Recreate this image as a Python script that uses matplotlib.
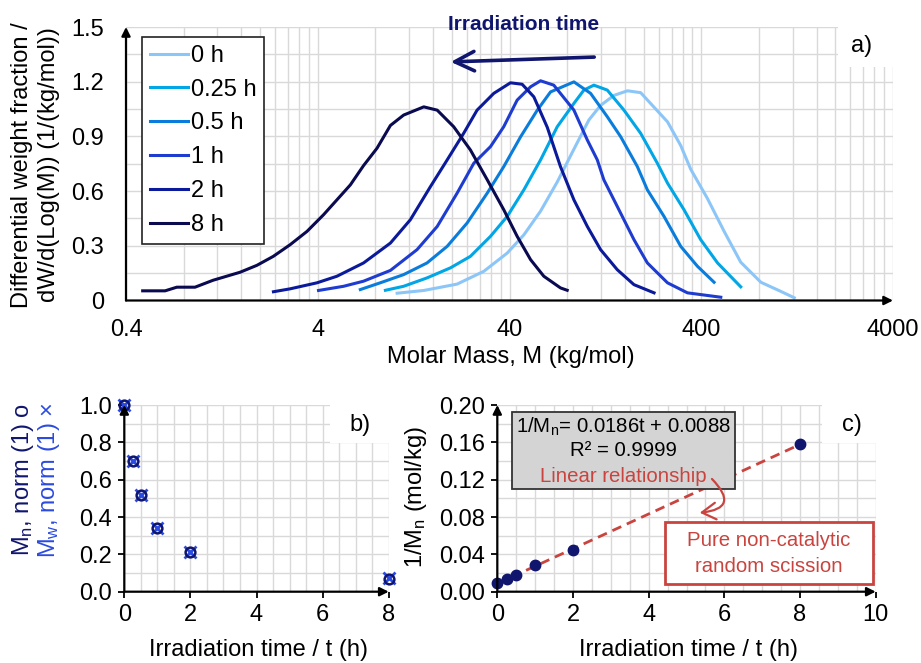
import numpy as np
import matplotlib.pyplot as plt
from matplotlib.patches import Rectangle, FancyArrowPatch
from matplotlib.ticker import FixedLocator, NullFormatter

plt.rcParams['font.family'] = ['Liberation Sans', 'DejaVu Sans']
plt.rcParams['font.size'] = 17
plt.rcParams['mathtext.fontset'] = 'custom'
plt.rcParams['mathtext.rm'] = 'Liberation Sans'
plt.rcParams['mathtext.it'] = 'Liberation Sans:italic'

# ---- panel a: molar mass distributions (log10 M in kg/mol, dW/dlogM)
labels_a = ['0 h', '0.25 h', '0.5 h', '1 h', '2 h', '8 h']
colors_a = ['#8cc6f8', '#00a6e6', '#0a7ddc', '#1e3cd0', '#0a1a9a', '#0a0a50']

logm_0h = [1.016, 1.155, 1.329, 1.468, 1.590, 1.677, 1.764, 1.851, 1.938, 2.016, 2.077, 2.147,
           2.217, 2.286, 2.356, 2.426, 2.495, 2.547, 2.634, 2.721, 2.808, 2.913, 3.017, 3.087]
w_0h = [0.04, 0.055, 0.09, 0.16, 0.26, 0.36, 0.49, 0.65, 0.83, 0.99, 1.07, 1.125,
        1.15, 1.14, 1.06, 0.98, 0.85, 0.72, 0.56, 0.38, 0.21, 0.10, 0.05, 0.015]

logm_025h = [0.955, 1.050, 1.172, 1.294, 1.398, 1.503, 1.590, 1.677, 1.764, 1.851, 1.938,
             1.990, 2.042, 2.112, 2.199, 2.286, 2.373, 2.426, 2.512, 2.599, 2.687, 2.808]
w_025h = [0.056, 0.078, 0.124, 0.179, 0.242, 0.352, 0.461, 0.607, 0.771, 0.953, 1.081,
          1.154, 1.181, 1.154, 1.044, 0.917, 0.753, 0.644, 0.498, 0.334, 0.206, 0.075]

logm_05h = [0.824, 0.928, 1.050, 1.172, 1.277, 1.381, 1.486, 1.572, 1.660, 1.747, 1.816,
            1.938, 2.025, 2.112, 2.182, 2.269, 2.321, 2.408, 2.495, 2.582, 2.669]
w_05h = [0.06, 0.097, 0.142, 0.206, 0.297, 0.425, 0.589, 0.734, 0.898, 1.044, 1.144,
         1.199, 1.136, 1.008, 0.898, 0.734, 0.607, 0.461, 0.297, 0.188, 0.10]

logm_1h = [0.606, 0.737, 0.841, 0.981, 1.120, 1.225, 1.329, 1.416, 1.503, 1.572, 1.642, 1.712,
           1.764, 1.833, 1.938, 2.008, 2.060, 2.094, 2.164, 2.251, 2.321, 2.426, 2.530, 2.704]
w_1h = [0.055, 0.078, 0.106, 0.165, 0.279, 0.406, 0.589, 0.753, 0.844, 0.953, 1.099, 1.172,
        1.205, 1.181, 1.044, 0.88, 0.771, 0.662, 0.516, 0.334, 0.206, 0.097, 0.042, 0.018]

logm_2h = [0.371, 0.458, 0.598, 0.702, 0.841, 0.981, 1.085, 1.190, 1.277, 1.363, 1.433, 1.520,
           1.607, 1.668, 1.729, 1.799, 1.868, 1.938, 2.008, 2.077, 2.164, 2.251, 2.356]
w_2h = [0.048, 0.064, 0.097, 0.133, 0.206, 0.315, 0.443, 0.625, 0.771, 0.917, 1.044, 1.136,
        1.194, 1.186, 1.117, 0.95, 0.734, 0.552, 0.406, 0.279, 0.169, 0.087, 0.042]

logm_8h = [-0.311, -0.194, -0.133, -0.038, 0.056, 0.197, 0.285, 0.370, 0.458, 0.546, 0.632,
           0.702, 0.772, 0.841, 0.911, 0.981, 1.050, 1.155, 1.225, 1.311, 1.398, 1.486,
           1.572, 1.642, 1.712, 1.781, 1.868, 1.903]
w_8h = [0.053, 0.053, 0.073, 0.073, 0.111, 0.155, 0.193, 0.242, 0.306, 0.379, 0.47,
        0.552, 0.634, 0.74, 0.835, 0.96, 1.017, 1.062, 1.044, 0.953, 0.826, 0.662,
        0.498, 0.352, 0.224, 0.133, 0.069, 0.056]

# ---- panels b and c
t_h = [0, 0.25, 0.5, 1, 2, 8]
mn_norm = [1.0, 0.70, 0.52, 0.34, 0.21, 0.07]
mw_norm = [1.0, 0.70, 0.52, 0.34, 0.21, 0.075]
inv_mn = [0.0090, 0.0136, 0.0176, 0.0283, 0.0447, 0.158]

W, H = 921, 663


def fpos(x, y):
    # pixel (top-left origin) -> figure fraction
    return x / W, 1 - y / H


def axes_box(x0, y0, x1, y1):
    return [x0 / W, 1 - y1 / H, (x1 - x0) / W, (y1 - y0) / H]


def axis_arrows(ax):
    for s in ax.spines.values():
        s.set_visible(False)
    kw = dict(arrowstyle='-|>', lw=1.6, color='k', mutation_scale=13, shrinkA=0, shrinkB=0)
    ax.annotate('', xy=(1, 0), xytext=(0, 0), xycoords='axes fraction', arrowprops=kw, zorder=5)
    ax.annotate('', xy=(0, 1), xytext=(0, 0), xycoords='axes fraction', arrowprops=kw, zorder=5)


def white_box(x0, y0, x1, y1):
    fig.patches.append(Rectangle(fpos(x0, y1), (x1 - x0) / W, (y1 - y0) / H,
                                 transform=fig.transFigure, facecolor='white',
                                 edgecolor='none', zorder=1))


grid_kw = dict(color='#d9d9d9', lw=1)
navy = '#10156e'
red = '#c9443f'

fig = plt.figure(figsize=(W / 100, H / 100), dpi=100)

# ------------------------------------------------------------------ a
ax_a = fig.add_axes(axes_box(126, 27, 893, 300.5))
series = [(logm_0h, w_0h), (logm_025h, w_025h), (logm_05h, w_05h),
          (logm_1h, w_1h), (logm_2h, w_2h), (logm_8h, w_8h)]
for (lm, w), lab, col in zip(series, labels_a, colors_a):
    ax_a.plot(10 ** np.array(lm), w, color=col, lw=2.2, label=lab)
ax_a.set_xscale('log')
ax_a.set_xlim(0.4, 4000)
ax_a.set_ylim(0, 1.5)
ax_a.xaxis.set_major_locator(FixedLocator([0.4, 4, 40, 400, 4000]))
ax_a.set_xticklabels(['0.4', '4', '40', '400', '4000'])
ax_a.xaxis.set_minor_locator(FixedLocator([0.4 * k * 10 ** n for n in range(4) for k in range(1, 10)]))
ax_a.xaxis.set_minor_formatter(NullFormatter())
ax_a.set_yticks(np.arange(0, 1.51, 0.3))
ax_a.set_yticklabels(['0', '0.3', '0.6', '0.9', '1.2', '1.5'])
ax_a.set_yticks(np.arange(0, 1.51, 0.15), minor=True)
ax_a.grid(True, which='both', **grid_kw)
ax_a.set_axisbelow(True)
ax_a.tick_params(which='both', length=0)
ax_a.tick_params(axis='y', pad=16)
ax_a.tick_params(axis='x', pad=13)
axis_arrows(ax_a)
leg = ax_a.legend(loc='upper left', bbox_to_anchor=(0.021, 0.965), frameon=True, fancybox=False,
                  edgecolor='#222222', framealpha=1, handlelength=1.6, handletextpad=0.1,
                  borderpad=0.35, labelspacing=0.5, borderaxespad=0)
leg.get_frame().set_linewidth(1.2)

fig.text(*fpos(22, 165), 'Differential weight fraction /', rotation=90, ha='center', va='center')
fig.text(*fpos(49, 165), 'dW/d(Log(M)) (1/(kg/mol))', rotation=90, ha='center', va='center')
fig.text(*fpos(511, 357), 'Molar Mass, M (kg/mol)', ha='center', va='center')
fig.text(*fpos(524, 24), 'Irradiation time', ha='center', va='center', fontsize=15,
         fontweight='bold', color=navy)
fig.patches.append(FancyArrowPatch(
    fpos(597, 57), fpos(448, 62), transform=fig.transFigure, arrowstyle='->,head_length=0.7,head_width=0.35',
    mutation_scale=20, lw=2.6, color=navy, zorder=4))
white_box(838, 20, 900, 67)
fig.text(*fpos(862, 46), 'a)', ha='center', va='center', zorder=4)

# ------------------------------------------------------------------ b
ax_b = fig.add_axes(axes_box(124.3, 405, 388.7, 591.7))
ax_b.plot(t_h, mw_norm, 'x', color='#2b4be0', ms=9, mew=2)
ax_b.plot(t_h, mn_norm, 'o', mfc='none', mec=navy, ms=7, mew=1.8)
ax_b.set_xlim(0, 8)
ax_b.set_ylim(0, 1.0)
ax_b.set_xticks(np.arange(0, 8.1, 2))
ax_b.set_xticks(np.arange(0, 8.01, 0.5), minor=True)
ax_b.set_yticks(np.arange(0, 1.01, 0.2))
ax_b.set_yticks(np.arange(0, 1.01, 0.1), minor=True)
ax_b.yaxis.set_major_formatter(plt.FormatStrFormatter('%.1f'))
ax_b.grid(True, which='both', **grid_kw)
ax_b.set_axisbelow(True)
ax_b.tick_params(which='minor', length=0)
ax_b.tick_params(which='major', length=4, width=1.3, pad=5)
axis_arrows(ax_b)
for ln in ax_b.lines:
    ln.set_clip_on(False)
fig.text(*fpos(258, 650), 'Irradiation time / t (h)', ha='center', va='center')
fig.text(*fpos(23, 480), r'M$\mathregular{_n}$, norm (1) o', rotation=90, ha='center', va='center',
         color=navy)
fig.text(*fpos(49, 480), r'M$\mathregular{_w}$, norm (1) ×', rotation=90, ha='center', va='center',
         color='#2b4be0')
white_box(330, 398, 392, 443)
fig.text(*fpos(360, 425), 'b)', ha='center', va='center', zorder=4)

# ------------------------------------------------------------------ c
ax_c = fig.add_axes(axes_box(497.3, 405, 875.7, 591.7))
slope, icpt = np.polyfit(t_h, inv_mn, 1)
tt = np.array([0, t_h[-1]])
ax_c.plot(tt, slope * tt + icpt, '--', color=red, lw=2, dashes=(3.5, 2.2))
ax_c.plot(t_h, inv_mn, 'o', color=navy, ms=7.5)
ax_c.set_xlim(0, 10)
ax_c.set_ylim(0, 0.2)
ax_c.set_xticks(np.arange(0, 10.1, 2))
ax_c.set_xticks(np.arange(0, 10.01, 0.5), minor=True)
ax_c.set_yticks(np.arange(0, 0.201, 0.04))
ax_c.set_yticks(np.arange(0, 0.201, 0.02), minor=True)
ax_c.yaxis.set_major_formatter(plt.FormatStrFormatter('%.2f'))
ax_c.grid(True, which='both', **grid_kw)
ax_c.set_axisbelow(True)
ax_c.tick_params(which='minor', length=0)
ax_c.tick_params(which='major', length=4, width=1.3, pad=5)
axis_arrows(ax_c)
for ln in ax_c.lines:
    ln.set_clip_on(False)
fig.text(*fpos(688, 650), 'Irradiation time / t (h)', ha='center', va='center')
fig.text(*fpos(416, 497), r'1/M$\mathregular{_n}$ (mol/kg)', rotation=90, ha='center', va='center')
white_box(822, 398, 882, 443)
fig.text(*fpos(852, 425), 'c)', ha='center', va='center', zorder=4)

# equation box
fig.patches.append(Rectangle(fpos(512, 489), (735 - 512) / W, (489 - 412) / H, transform=fig.transFigure,
                             facecolor='#d4d4d4', edgecolor='#333333', lw=1.3, zorder=2))
fig.text(*fpos(623, 427), r'1/M$\mathregular{_n}$= 0.0186t + 0.0088', ha='center', va='center',
         fontsize=14.7, zorder=4)
fig.text(*fpos(623, 451), 'R² = 0.9999', ha='center', va='center', fontsize=14.7, zorder=4)
fig.text(*fpos(623, 476), 'Linear relationship', ha='center', va='center', fontsize=14.7,
         color=red, zorder=4)
fig.patches.append(FancyArrowPatch(
    fpos(710, 477), fpos(697, 513), transform=fig.transFigure, connectionstyle='arc3,rad=-1.1',
    arrowstyle='->,head_length=0.5,head_width=0.3', mutation_scale=20, lw=1.6, color=red, zorder=4))

fig.patches.append(Rectangle(fpos(665, 584), (873 - 665) / W, (584 - 522) / H, transform=fig.transFigure,
                             facecolor='white', edgecolor=red, lw=2, zorder=2))
fig.text(*fpos(769, 541), 'Pure non-catalytic', ha='center', va='center', fontsize=14.7,
         color=red, zorder=4)
fig.text(*fpos(769, 566), 'random scission', ha='center', va='center', fontsize=14.7,
         color=red, zorder=4)

fig.savefig('out.png', dpi=100)
